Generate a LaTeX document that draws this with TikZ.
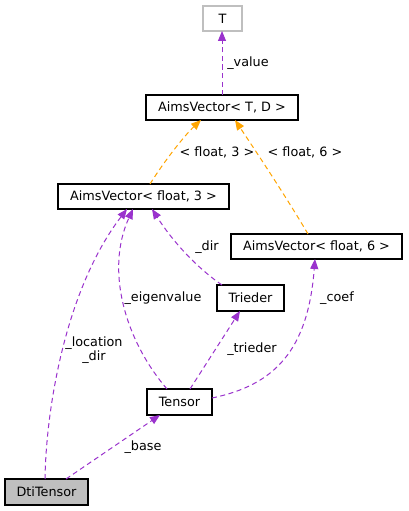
\documentclass[tikz,border=0pt]{standalone}
\usepackage{fontspec}
\setmainfont{DejaVu Sans}
\usetikzlibrary{arrows.meta}
\definecolor{edgepurple}{HTML}{9A32CD}
\definecolor{edgeorange}{HTML}{FFA500}
\definecolor{nodegray}{HTML}{BFBFBF}
\begin{document}
\begin{tikzpicture}[x=1pt,y=-1pt,
  font=\fontsize{12.8}{14}\selectfont,
  box/.style={draw=black,line width=1.2pt,fill=white,inner sep=0pt,minimum height=25pt,anchor=center},
  usage/.style={draw=edgepurple,line width=1pt,dash pattern=on 5pt off 3.5pt,-{Triangle[length=10pt,width=8pt,fill=edgepurple]}},
  inherit/.style={draw=edgeorange,line width=1pt,dash pattern=on 5pt off 3.5pt,-{Triangle[length=10pt,width=8pt,fill=edgeorange]}},
  lbl/.style={inner sep=0pt,align=center}]
\useasboundingbox (0,0) rectangle (408,511);
\fill[white] (0,0) rectangle (408,511);
% nodes
\node[box,draw=nodegray,minimum width=39pt] (T) at (222.5,18.5) {T};
\node[box,minimum width=152pt] (AVTD) at (222,107.5) {AimsVector< T, D >};
\node[box,minimum width=171pt] (AV3) at (143.5,196.5) {AimsVector< float, 3 >};
\node[box,minimum width=171pt] (AV6) at (316.5,246.5) {AimsVector< float, 6 >};
\node[box,minimum width=67pt,minimum height=26pt] (Tr) at (250.5,298) {Trieder};
\node[box,minimum width=65pt,minimum height=26pt] (Te) at (179.5,402) {Tensor};
\node[box,fill=nodegray,minimum width=83pt,minimum height=26pt] (Dti) at (46.5,492) {DtiTensor};
% anchor coordinates
\coordinate (AVTDt) at (222,95);
\coordinate (Tb) at (222,31);
\coordinate (AV3t) at (150,184);
\coordinate (AVTDb1) at (201,120);
\coordinate (AV6t) at (308,234);
\coordinate (AVTDb2) at (235,120);
\coordinate (Trt) at (222,285);
\coordinate (AV3b1) at (152,209);
\coordinate (Dtit1) at (45,479);
\coordinate (AV3b2) at (127,209);
\coordinate (Tet1) at (167,389);
\coordinate (AV3b3) at (133,209);
\coordinate (Tet2) at (190,389);
\coordinate (Trb) at (240,311);
\coordinate (Ter) at (212,398);
\coordinate (AV6b) at (315,259);
\coordinate (Dtit2) at (66,479);
\coordinate (Teb) at (160,415);
% edges
\draw[usage] (AVTDt) -- (Tb);
\draw[inherit] (AV3t) .. controls (165,160) and (185,135) .. (AVTDb1);
\draw[inherit] (AV6t) .. controls (285,195) and (255,150) .. (AVTDb2);
\draw[usage] (Trt) .. controls (200,270) and (175,245) .. (AV3b1);
\draw[usage] (Dtit1) .. controls (46,410) and (65,290) .. (AV3b2);
\draw[usage] (Tet1) .. controls (125,340) and (105,270) .. (AV3b3);
\draw[usage] (Tet2) -- (Trb);
\draw[usage] (Ter) .. controls (275,385) and (308,350) .. (AV6b);
\draw[usage] (Dtit2) -- (Teb);
% labels
\node[lbl] (lvalue) at (248,63) {\_value};
\node[lbl] (lf3) at (217,152) {< float, 3 >};
\node[lbl] (lf6) at (305,152) {< float, 6 >};
\node[lbl] (ldir) at (207,247) {\_dir};
\node[lbl] (leig) at (163,298) {\_eigenvalue};
\node[lbl] (lcoef) at (337,298) {\_coef};
\node[lbl] (lloc) at (94,350) {\_location\\\_dir};
\node[lbl] (ltri) at (252,349) {\_trieder};
\node[lbl] (lbase) at (143,447) {\_base};
\end{tikzpicture}
\end{document}
